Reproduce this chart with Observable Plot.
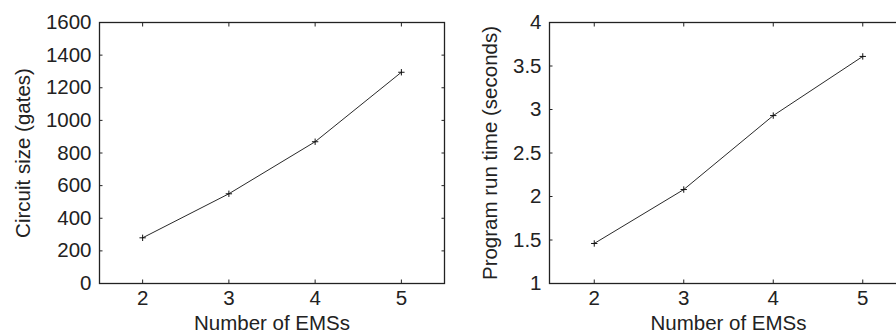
<!DOCTYPE html>
<html><head><meta charset="utf-8">
<script src="https://cdn.jsdelivr.net/npm/d3@7"></script>
<script src="https://cdn.jsdelivr.net/npm/@observablehq/plot@0.6"></script>
<style>
html,body{margin:0;padding:0;background:#fff;overflow:hidden;}
#wrap{display:flex;width:896px;height:335px;overflow:hidden;}
#wrap > *{flex:none;}
</style></head><body><div id="wrap"></div>
<script>
const emsCounts = [2, 3, 4, 5];
const circuitSize = [280, 550, 869, 1295];
const runTime = [1.46, 2.08, 2.93, 3.61];
const xTicks = [2, 3, 4, 5];
const sizeTicks = [0, 200, 400, 600, 800, 1000, 1200, 1400, 1600];
const timeTicks = [1, 1.5, 2, 2.5, 3, 3.5, 4];
const xLabel = "Number of EMSs";
const sizeLabel = "Circuit size (gates)";
const timeLabel = "Program run time (seconds)";

const FONT = "'Liberation Sans', Arial, Helvetica, sans-serif";
const FS = 20.5;
const INK = "#222";
const fmt = d3.format("~g");

function makePanel(values, yDomain, yTicks, yLabel, width, marginRight, yLabelDx) {
  const data = emsCounts.map((n, i) => ({n, v: values[i]}));
  return Plot.plot({
    width, height: 335,
    marginLeft: 99, marginRight, marginTop: 22, marginBottom: 52,
    style: {fontFamily: FONT, fontSize: FS + "px", color: INK, background: "white", overflow: "hidden"},
    x: {domain: [1.5, 5.5], ticks: xTicks, label: null},
    y: {domain: yDomain, ticks: yTicks, label: null},
    marks: [
      Plot.frame({stroke: INK, strokeWidth: 1.3}),
      Plot.axisX({anchor: "bottom", ticks: xTicks, tickFormat: fmt, tickSize: 0, tickPadding: 7, label: null, fill: INK}),
      Plot.axisX({anchor: "bottom", ticks: xTicks, tickSize: -3.5, fill: "none", label: null, stroke: INK}),
      Plot.axisX({anchor: "top", ticks: xTicks, tickSize: -3.5, fill: "none", label: null, stroke: INK}),
      Plot.axisY({anchor: "left", ticks: yTicks, tickFormat: fmt, tickSize: 0, tickPadding: 8, label: null, fill: INK}),
      Plot.axisY({anchor: "left", ticks: yTicks, tickSize: -3.5, fill: "none", label: null, stroke: INK}),
      Plot.axisY({anchor: "right", ticks: yTicks, tickSize: -3.5, fill: "none", label: null, stroke: INK}),
      Plot.line(data, {x: "n", y: "v", stroke: "#111", strokeWidth: 0.9}),
      Plot.dot(data, {x: "n", y: "v", symbol: "plus", r: 2.2, stroke: "#111", strokeWidth: 1}),
      Plot.text([xLabel], {frameAnchor: "bottom", dy: 40, lineAnchor: "middle", fill: INK, fontSize: FS}),
      Plot.text([yLabel], {frameAnchor: "left", dx: yLabelDx, rotate: -90, lineAnchor: "middle", textAnchor: "middle", fill: INK, fontSize: FS})
    ]
  });
}

const wrap = document.getElementById("wrap");
wrap.append(makePanel(circuitSize, [0, 1600], sizeTicks, sizeLabel, 450, 6, -76));
wrap.append(makePanel(runTime, [1, 4], timeTicks, timeLabel, 457, 0, -59));
</script></body></html>
